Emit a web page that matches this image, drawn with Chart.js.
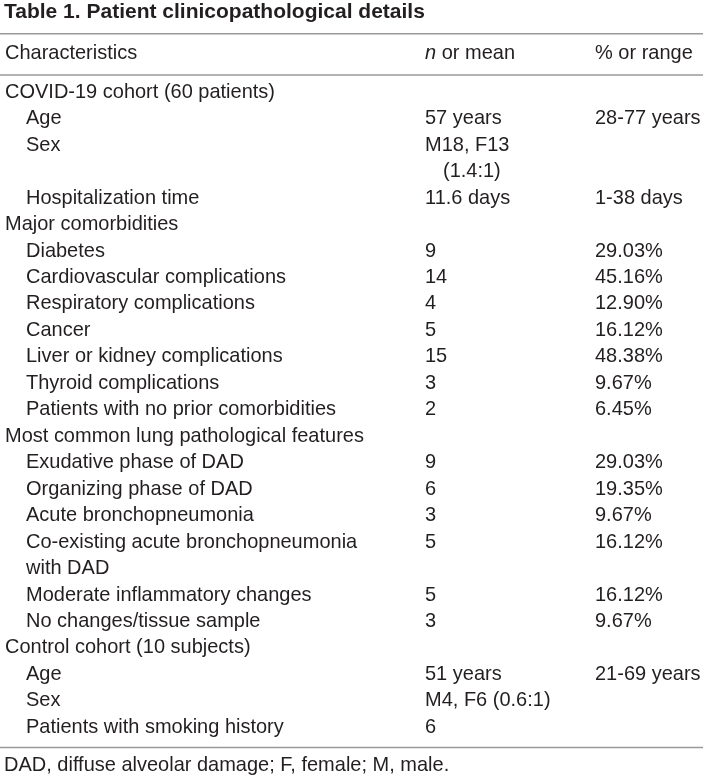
<!DOCTYPE html>
<html><head><meta charset="utf-8">
<script src="https://cdn.jsdelivr.net/npm/chart.js@4"></script>
<style>html,body{margin:0;padding:0;background:#fff}#wrap{width:707px;height:778px;position:relative}</style>
</head><body><div id="wrap"><canvas id="c"></canvas></div>
<script>
const title = "Table 1. Patient clinicopathological details";
const headers = ["Characteristics", "n or mean", "% or range"];
const levels = [0,1,1,1,0,1,1,1,1,1,1,1,0,1,1,1,1,1,1,0,1,1,1];
const characteristics = [
  "COVID-19 cohort (60 patients)", "Age", "Sex", "Hospitalization time",
  "Major comorbidities", "Diabetes", "Cardiovascular complications", "Respiratory complications",
  "Cancer", "Liver or kidney complications", "Thyroid complications", "Patients with no prior comorbidities",
  "Most common lung pathological features", "Exudative phase of DAD", "Organizing phase of DAD",
  "Acute bronchopneumonia", "Co-existing acute bronchopneumonia\nwith DAD", "Moderate inflammatory changes",
  "No changes/tissue sample", "Control cohort (10 subjects)", "Age", "Sex", "Patients with smoking history"
];
const nOrMean = [
  "", "57 years", "M18, F13\n(1.4:1)", "11.6 days",
  "", "9", "14", "4", "5", "15", "3", "2",
  "", "9", "6", "3", "5", "5", "3",
  "", "51 years", "M4, F6 (0.6:1)", "6"
];
const pctOrRange = [
  "", "28-77 years", "", "1-38 days",
  "", "29.03%", "45.16%", "12.90%", "16.12%", "48.38%", "9.67%", "6.45%",
  "", "29.03%", "19.35%", "9.67%", "16.12%", "16.12%", "9.67%",
  "", "21-69 years", "", ""
];
const footnote = "DAD, diffuse alveolar damage; F, female; M, male.";

// starting text line of each row (rows may wrap onto several lines)
const lineCount = characteristics.map((c, i) => Math.max(c.split("\n").length, nOrMean[i].split("\n").length, pctOrRange[i].split("\n").length));
const rowLine = [];
let acc = 0;
lineCount.forEach(n => { rowLine.push(acc); acc += n; });
const cells = rowLine.map(y => ({x: 0, y: y}));

const LAYOUT = {
  colX: [5, 26, 425, 595], contIndentN: 18,
  titleRow: -3.0, topRule: -2.2, headerRow: -1.47, headRule: -0.64,
  bottomRule: 24.77, footRow: 25.45,
  font: '21px "Liberation Sans", Arial, sans-serif',
  italic: 'italic 21px "Liberation Sans", Arial, sans-serif',
  bold: 'bold 21px "Liberation Sans", Arial, sans-serif',
  sx: 0.952,
  color: '#231f20', rule: '#9a9a9a'
};

function txt(ctx, t, x, y, sx) {
  ctx.save();
  ctx.translate(x, y);
  ctx.scale(sx, 1);
  ctx.fillText(t, 0, 0);
  ctx.restore();
}

const tablePlugin = {
  id: 'tableText',
  afterDatasetsDraw(chart) {
    const ctx = chart.ctx, ys = chart.scales.y;
    const L = LAYOUT;
    const W = chart.width;
    ctx.save();
    ctx.fillStyle = L.color;
    ctx.textBaseline = 'middle';
    ctx.textAlign = 'left';
    // title
    ctx.font = L.bold;
    txt(ctx, title, 4, ys.getPixelForValue(L.titleRow), 1);
    // rules
    ctx.strokeStyle = L.rule; ctx.lineWidth = 1.5;
    [L.topRule, L.headRule, L.bottomRule].forEach(v => {
      const y = ys.getPixelForValue(v);
      ctx.beginPath(); ctx.moveTo(0, y); ctx.lineTo(W - 4, y); ctx.stroke();
    });
    // header
    const hy = ys.getPixelForValue(L.headerRow);
    ctx.font = L.font;
    txt(ctx, headers[0], L.colX[0], hy, L.sx);
    const parts = headers[1].split(" ");
    ctx.font = L.italic;
    txt(ctx, parts[0], L.colX[2], hy, L.sx);
    const w0 = ctx.measureText(parts[0] + " ").width * L.sx;
    ctx.font = L.font;
    txt(ctx, parts.slice(1).join(" "), L.colX[2] + w0, hy, L.sx);
    txt(ctx, headers[2], L.colX[3], hy, L.sx);
    // body cells
    const meta = chart.getDatasetMeta(0);
    const step = ys.getPixelForValue(1) - ys.getPixelForValue(0);
    meta.data.forEach((pt, i) => {
      const y0 = pt.y;
      const lx = levels[i] === 0 ? L.colX[0] : L.colX[1];
      characteristics[i].split("\n").forEach((t, k) => txt(ctx, t, lx, y0 + k * step, L.sx));
      nOrMean[i].split("\n").forEach((t, k) => txt(ctx, t, L.colX[2] + (k > 0 ? L.contIndentN : 0), y0 + k * step, L.sx));
      pctOrRange[i].split("\n").forEach((t, k) => txt(ctx, t, L.colX[3], y0 + k * step, L.sx));
    });
    // footnote
    ctx.font = L.font;
    txt(ctx, footnote, 4, ys.getPixelForValue(L.footRow), L.sx);
    ctx.restore();
  }
};

new Chart(document.getElementById('c'), {
  type: 'scatter',
  data: { datasets: [{ data: cells, pointRadius: 0, pointHoverRadius: 0 }] },
  options: {
    responsive: true, maintainAspectRatio: false, animation: false,
    layout: { padding: 0 },
    events: [],
    plugins: { legend: { display: false }, tooltip: { enabled: false } },
    scales: {
      x: { display: false, min: 0, max: 1 },
      y: { display: false, reverse: true, min: -92 / 26.46, max: 24 + (778 - 727) / 26.46 }
    }
  },
  plugins: [tablePlugin]
});
</script>
</body></html>
